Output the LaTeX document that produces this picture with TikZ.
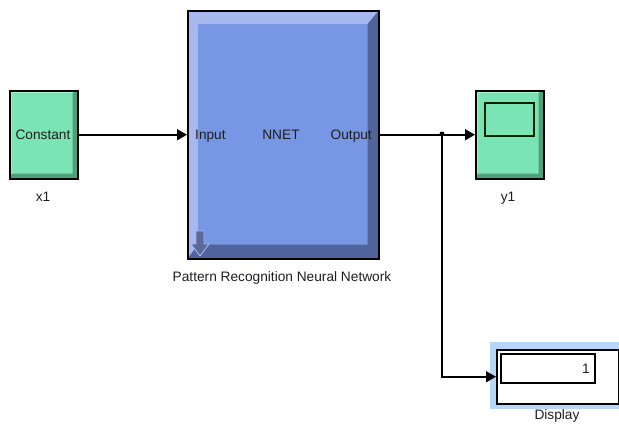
\documentclass[tikz,border=0pt]{standalone}
\usepackage{fontspec}
\setmainfont{Liberation Sans}
\usetikzlibrary{arrows.meta,calc,backgrounds}

\definecolor{blkgreen}{RGB}{122,228,180}
\definecolor{blkgreenlt}{RGB}{158,240,204}
\definecolor{blkgreendk}{RGB}{78,160,122}
\definecolor{nnface}{RGB}{119,150,227}
\definecolor{nnlight}{RGB}{166,184,238}
\definecolor{nndark}{RGB}{80,99,154}
\definecolor{halo}{RGB}{183,213,246}
\definecolor{txt}{RGB}{30,30,30}

% bevel of a block: node, light, dark, left, top, right, bottom
\newcommand{\bevel}[7]{%
  \fill[#2] (#1.north west) -- (#1.north east) -- ($(#1.north east)+(-#6,#5)$) -- ($(#1.north west)+(#4,#5)$) -- ($(#1.south west)+(#4,-#7)$) -- (#1.south west) -- cycle;
  \fill[#3] (#1.north east) -- (#1.south east) -- (#1.south west) -- ($(#1.south west)+(#4,-#7)$) -- ($(#1.south east)+(-#6,-#7)$) -- ($(#1.north east)+(-#6,#5)$) -- cycle;
}

\begin{document}
\begin{tikzpicture}[x=1pt,y=-1pt,
  block/.style={draw=black,line width=1.5pt,inner sep=0pt,anchor=north west},
  lbl/.style={text=txt,font=\fontsize{13.7}{16}\selectfont,inner sep=0pt,anchor=base},
  sig/.style={line width=1.6pt,-{Triangle[length=10pt,width=11pt]}}]

\useasboundingbox (0,0) rectangle (619,426);

%blocks
\node[block,minimum width=68pt,minimum height=88pt] at (9,90) (const) {};
\node[block,minimum width=191pt,minimum height=248pt] at (187,10) (nnet) {};
\node[block,minimum width=68pt,minimum height=88pt] at (475,90) (scope) {};
\node[block,minimum width=122pt,minimum height=54pt] at (496,349) (disp) {};

\begin{scope}[on background layer]
\fill[halo] (490,342) rectangle (619,409);
\fill[white] (disp.north west) rectangle (disp.south east);
\fill[blkgreen] (const.north west) rectangle (const.south east);
\bevel{const}{blkgreenlt}{blkgreendk}{3}{3}{6}{6}
\fill[blkgreen] (scope.north west) rectangle (scope.south east);
\bevel{scope}{blkgreenlt}{blkgreendk}{3}{3}{6}{6}
\fill[nnface] (nnet.north west) rectangle (nnet.south east);
\bevel{nnet}{nnlight}{nndark}{11}{14}{12}{15}
\end{scope}

%little down arrow of the mask
\fill[nndark!80!gray,draw=nnlight,line width=0.9pt] (196,231) -- (204,231) -- (204,244) -- (209,244) -- (200,256) -- (191,244) -- (196,244) -- cycle;

%texts
\node[lbl] at (43,139) (ctxt) {Constant};
\node[lbl,anchor=base west] at (195,139) (nin) {Input};
\node[lbl] at (281,139) (nmid) {NNET};
\node[lbl,anchor=base east] at (372,139) (nout) {Output};

\node[draw=black!85!green,line width=1.8pt,inner sep=0pt,minimum width=49pt,minimum height=33pt,anchor=north west] at (484,102) (screen) {};
\node[draw=black,line width=1.5pt,inner sep=0pt,minimum width=94pt,minimum height=29pt,anchor=north west] at (500,353) (field) {};
\node[lbl,anchor=base east] at (590,373) (val) {1};

\node[lbl] at (43,201) (x1) {x1};
\node[lbl] at (508,201) (y1) {y1};
\node[lbl] at (282,281) (cap) {Pattern Recognition Neural Network};
\node[lbl] at (557,419) (dlbl) {Display};

%signals
\coordinate (br) at (442,134);
\draw[sig] (const.east) -- (nnet.west);
\draw[sig] (nnet.east) -- (scope.west);
\fill (br) circle (2.5pt);
\draw[sig] (br) |- (disp.west);

\end{tikzpicture}
\end{document}
